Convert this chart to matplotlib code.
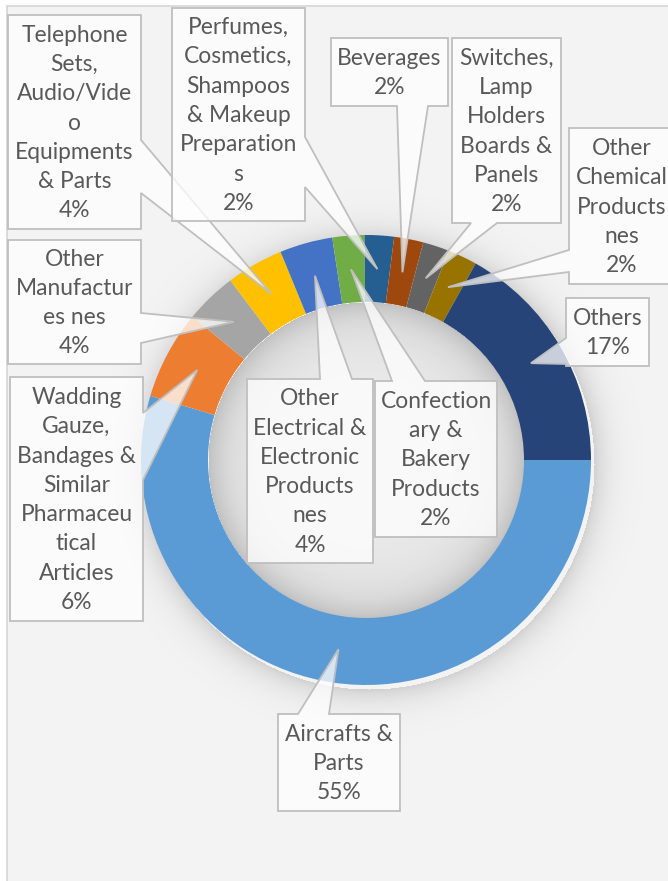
import numpy as np
import matplotlib.pyplot as plt
from matplotlib.patches import Polygon, Rectangle

# Export shares by product group (percent), clockwise from 3 o'clock
labels = [
    "Aircrafts &\nParts",
    "Wadding\nGauze,\nBandages &\nSimilar\nPharmaceu\ntical\nArticles",
    "Other\nManufactur\nes nes",
    "Telephone\nSets,\nAudio/Vide\no\nEquipments\n& Parts",
    "Other\nElectrical &\nElectronic\nProducts\nnes",
    "Confection\nary &\nBakery\nProducts",
    "Perfumes,\nCosmetics,\nShampoos\n& Makeup\nPreparation\ns",
    "Beverages",
    "Switches,\nLamp\nHolders\nBoards &\nPanels",
    "Other\nChemical\nProducts\nnes",
    "Others",
]
shares = [54.6, 6.4, 3.7, 4.1, 3.8, 2.3, 2.1, 2.1, 1.9, 2.1, 16.9]
colors = ["#5B9BD5", "#ED7D31", "#A5A5A5", "#FFC000", "#4472C4", "#70AD47",
          "#255E91", "#9E480E", "#636363", "#997300", "#264478"]

# callout boxes in pixel coords (x0, y0, x1, y1), side of pointer, pointer base span
boxes = [
    ((278, 714, 400, 811), "top", (298, 329)),
    ((10, 377, 143, 621), "right", (413, 480)),
    ((8, 240, 141, 364), "right", (313, 343)),
    ((8, 15, 141, 229), "right", (140, 193)),
    ((247, 379, 373, 563), "top", (320, 352)),
    ((375, 381, 497, 537), "top", (392, 425)),
    ((172, 8, 305, 221), "right", (137, 187)),
    ((331, 38, 448, 106), "bottom", (397, 428)),
    ((452, 38, 561, 223), "bottom", (471, 497)),
    ((569, 128, 674, 284), "left", (250, 272)),
    ((566, 298, 649, 366), "left", (338, 364)),
]

W, H = 668, 881
cx, cy, R, ring = 366, H - 460, 225, 67

fig = plt.figure(figsize=(W / 100, H / 100), dpi=100)
ax = fig.add_axes([0, 0, 1, 1])

# chart area background and frame
ax.add_patch(Rectangle((7, -5), W, H - 1, facecolor="#f3f3f3",
                       edgecolor="#d6d6d6", lw=1.2, zorder=0))

# soft shadows around the ring and inside the hole
yy, xx = np.mgrid[0:H, 0:W]
d_out = np.hypot(xx - (cx + 3), (H - yy) - (cy - 4))
d_in = np.hypot(xx - cx, (H - yy) - cy)
alpha = np.zeros((H, W))
outer = d_out > R
alpha[outer] = 0.14 * np.exp(-(d_out[outer] - R) / 14)
rin = R - ring
inner = d_in < rin
alpha[inner] = 0.04 + 0.17 * np.exp(-(rin - d_in[inner]) / 22)
rgba = np.zeros((H, W, 4))
rgba[..., 3] = alpha
ax.imshow(rgba, extent=(0, W, 0, H), origin="upper", zorder=1, interpolation="bilinear")

wedges, _ = ax.pie(shares, colors=colors, startangle=0, counterclock=False,
                   radius=R, center=(cx, cy),
                   wedgeprops=dict(width=ring, edgecolor="none"))
for w in wedges:
    w.set_zorder(2)

total = sum(shares)
for w, lab, v, (bx, side, (b0, b1)) in zip(wedges, labels, shares, boxes):
    mid = np.deg2rad((w.theta1 + w.theta2) / 2)
    tip = (cx + 0.85 * R * np.cos(mid), cy + 0.85 * R * np.sin(mid))
    x0, y0, x1, y1 = bx
    X0, X1 = x0, x1
    Y0, Y1 = H - y0, H - y1  # Y0 top, Y1 bottom
    if side == "right":
        pts = [(X0, Y0), (X1, Y0), (X1, H - b0), tip, (X1, H - b1), (X1, Y1), (X0, Y1)]
    elif side == "left":
        pts = [(X0, Y0), (X1, Y0), (X1, Y1), (X0, Y1), (X0, H - b1), tip, (X0, H - b0)]
    elif side == "top":
        pts = [(X0, Y0), (b0, Y0), tip, (b1, Y0), (X1, Y0), (X1, Y1), (X0, Y1)]
    else:
        pts = [(X0, Y0), (X1, Y0), (X1, Y1), (b1, Y1), tip, (b0, Y1), (X0, Y1)]
    ax.add_patch(Polygon(pts, closed=True, facecolor=(1, 1, 1, 0.75),
                         edgecolor="#bfbfbf", lw=1.3, zorder=3))
    ax.text((X0 + X1) / 2, (Y0 + Y1) / 2 - 1, f"{lab}\n{v / total * 100:.0f}%",
            ha="center", va="center", fontsize=16.4, family="Lato",
            color="#595959", linespacing=1.49, zorder=4)

ax.set_xlim(0, W)
ax.set_ylim(0, H)
ax.set_aspect("auto")
ax.axis("off")

fig.savefig("out.png", dpi=100, facecolor="white")
